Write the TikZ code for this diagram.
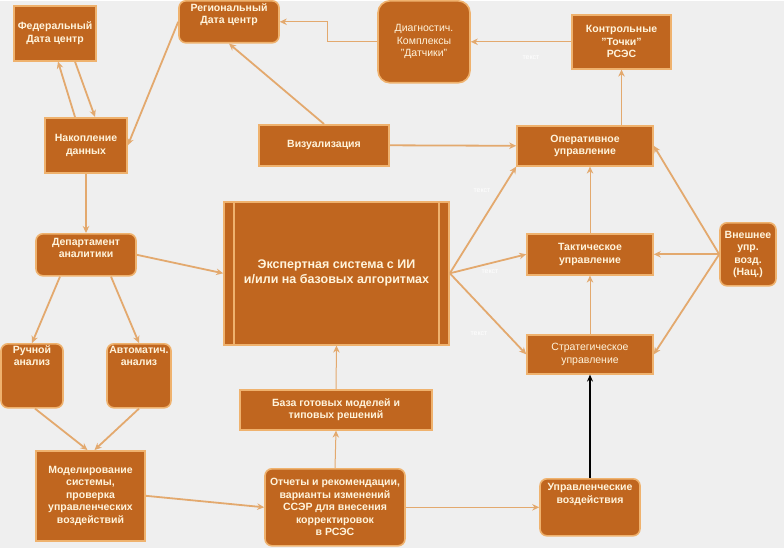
\documentclass[tikz,border=0pt]{standalone}
\usepackage{fontspec}
\setmainfont{Liberation Sans}
\usetikzlibrary{arrows.meta}
\definecolor{bg}{HTML}{EFEFEF}
\definecolor{boxfill}{HTML}{C0661F}
\definecolor{boxline}{HTML}{EFB26E}
\definecolor{arr}{HTML}{E3A96E}
\definecolor{txt}{HTML}{FFF4DC}
\begin{document}
\begin{tikzpicture}[x=1pt,y=-1pt,
  box/.style={draw=boxline, line width=1.6pt, fill=boxfill, text=txt,
    font=\fontsize{10.5}{12.5}\selectfont\bfseries, align=center, inner sep=1.5pt},
  rbox/.style={box, rounded corners=7pt},
  plain/.style={font=\fontsize{10.5}{12.5}\selectfont},
  ar/.style={draw=arr, line width=1.8pt, -{Stealth[length=7pt,width=6.5pt]}},
  thinar/.style={ar, line width=1pt},
  lbl/.style={text=white, font=\fontsize{7}{8}\selectfont, inner sep=0pt}]
\fill[bg] (0,0) rectangle (784,547);

% nodes
\node[box, minimum width=82pt, minimum height=55pt] (fed) at (55,32.5) {Федеральный\\Дата центр};
\node[box, minimum width=82pt, minimum height=55pt] (nak) at (86,144.5) {Накопление\\данных};
\node[rbox, minimum width=100pt, minimum height=42pt, text depth=16.5pt] (reg) at (229,21) {Региональный\\Дата центр};
\node[rbox, rounded corners=12pt, plain, minimum width=92pt, minimum height=82pt] (diag) at (424,41) {Диагностич.\\Комплексы\\"Датчики"};
\node[box, minimum width=99pt, minimum height=54pt] (kont) at (621.5,41) {Контрольные\\"Точки"\\РСЭС};
\node[box, minimum width=130pt, minimum height=41pt] (viz) at (324,144.5) {Визуализация};
\node[box, minimum width=136pt, minimum height=40pt] (oper) at (585,145) {Оперативное\\управление};
\node[rbox, minimum width=100pt, minimum height=42pt, text depth=13.5pt] (dep) at (86,254) {Департамент\\аналитики};
\node[box, minimum width=225pt, minimum height=143pt, font=\fontsize{12.5}{15}\selectfont\bfseries] (exp) at (336.5,272.5) {Экспертная система с ИИ\\и/или на базовых алгоритмах};
\draw[boxline, line width=1.6pt] ([xshift=11pt]exp.north west) -- ([xshift=11pt]exp.south west);
\draw[boxline, line width=1.6pt] ([xshift=-11pt]exp.north east) -- ([xshift=-11pt]exp.south east);
\node[box, minimum width=126pt, minimum height=41pt] (takt) at (590,253.5) {Тактическое\\управление};
\node[rbox, minimum width=56pt, minimum height=63pt] (vnesh) at (748,253.5) {Внешнее\\упр.\\возд.\\(Нац.)};
\node[box, plain, minimum width=126pt, minimum height=39pt] (strat) at (590,353.5) {Стратегическое\\управление};
\node[rbox, minimum width=62pt, minimum height=64pt, text depth=40pt] (ruch) at (32,375) {Ручной\\анализ};
\node[rbox, minimum width=64pt, minimum height=64pt, text depth=40pt] (avto) at (139,375) {Автоматич.\\анализ};
\node[box, minimum width=192pt, minimum height=40pt] (baza) at (336,409) {База готовых моделей и\\типовых решений};
\node[box, minimum width=109pt, minimum height=90pt] (mod) at (90.5,495) {Моделирование\\системы,\\проверка\\управленческих\\воздействий};
\node[rbox, minimum width=140pt, minimum height=77pt] (otch) at (335,506.5) {Отчеты и рекомендации,\\варианты изменений\\ССЭР для внесения\\корректировок\\в РСЭС};
\node[rbox, minimum width=100pt, minimum height=57pt, text depth=27.5pt] (upr) at (590,506.5) {Управленческие\\воздействия};

% faint labels
\node[lbl] (t1) at (531,57) {текст};
\node[lbl] (t2) at (482,190) {текст};
\node[lbl] (t3) at (490,271) {текст};
\node[lbl] (t4) at (479,333) {текст};

% connectors
\draw[ar] ([xshift=-11pt]nak.north) -- ([xshift=3pt]fed.south);
\draw[ar] ([xshift=20pt]fed.south) -- ([xshift=9pt]nak.north);
\draw[ar] (reg.west) -- (nak.east);
\draw[ar] (viz.north) -- (reg.south);
\draw[thinar] (diag.west) -- ++(-50,0) |- (reg.east);
\draw[thinar] (kont.west) -- (diag.east);
\draw[ar] (kont.south |- oper.north) -- (kont.south);
\draw[ar] (viz.east) -- (oper.west);
\draw[ar] (nak.south) -- (dep.north);
\draw[ar] (dep.east) -- (exp.west);
\draw[ar] ([xshift=-26pt]dep.south) -- (ruch.north);
\draw[ar] ([xshift=25pt]dep.south) -- (avto.north);
\draw[ar] ([xshift=3pt]ruch.south) -- ([xshift=-3pt]mod.north);
\draw[ar] (avto.south) -- ([xshift=4pt]mod.north);
\draw[ar] (mod.east) -- (otch.west);
\draw[thinar] (otch.north) -- (baza.south);
\draw[thinar] (baza.north) -- (exp.south);
\draw[thinar] (otch.east) -- (upr.west);
\draw[black, line width=1.4pt, -{Stealth[length=7pt,width=6pt]}] (upr.north) -- (strat.south);
\draw[ar] (exp.east) -- (oper.south west);
\draw[ar] (exp.east) -- (takt.west);
\draw[ar] (exp.east) -- (strat.west);
\draw[thinar] (strat.north) -- (takt.south);
\draw[thinar] (takt.north) -- (takt.north |- oper.south);
\draw[ar] (vnesh.west) -- (oper.east);
\draw[ar] (vnesh.west) -- (takt.east);
\draw[ar] (vnesh.west) -- (strat.east);
\end{tikzpicture}
\end{document}
